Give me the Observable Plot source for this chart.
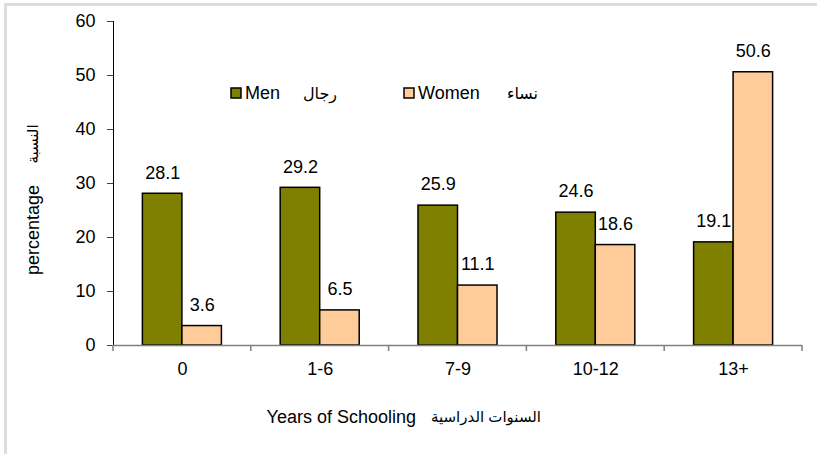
<!DOCTYPE html>
<html>
<head>
<meta charset="utf-8">
<script src="https://cdn.jsdelivr.net/npm/d3@7"></script>
<script src="https://cdn.jsdelivr.net/npm/@observablehq/plot@0.6"></script>
<style>
  html, body { margin: 0; padding: 0; background: #fff; }
  #wrap { position: relative; width: 817px; height: 454px; overflow: hidden; }
  #border { position: absolute; left: 4px; top: 3px; width: 900px; height: 600px;
            border-left: 3px solid #dcdcdc; border-top: 3px solid #dcdcdc; box-sizing: border-box; }
  #chart { position: absolute; left: 0; top: 0; }
</style>
</head>
<body>
<div id="wrap"><div id="border"></div><div id="chart"></div></div>
<script>
const categories = ["0", "1-6", "7-9", "10-12", "13+"];
const men = [28.1, 29.2, 25.9, 24.6, 19.1];
const women = [3.6, 6.5, 11.1, 18.6, 50.6];
const seriesNames = ["Men", "Women"];
const seriesArabic = ["رجال", "نساء"];
const seriesColors = ["#808000", "#FFCC99"];
const yTicks = [0, 10, 20, 30, 40, 50, 60];
const yLabel = ["percentage", "النسبة"];
const xLabel = ["Years of Schooling", "السنوات الدراسية"];

const data = categories.flatMap((c, i) => [
  {cat: c, series: seriesNames[0], value: men[i]},
  {cat: c, series: seriesNames[1], value: women[i]}
]);

const font = "'Liberation Sans', Arial, 'DejaVu Sans', sans-serif";

const plot = Plot.plot({
  width: 817,
  height: 454,
  marginLeft: 113,
  marginRight: 15,
  marginTop: 21,
  marginBottom: 109,
  style: {fontFamily: font, fontSize: "18px", background: "transparent", color: "#000", overflow: "visible"},
  fx: {domain: categories, padding: 0, round: false, label: null, axis: "bottom", tickSize: 0, tickPadding: 17},
  x: {domain: seriesNames, paddingInner: 0, paddingOuter: 0.744, round: false, axis: null},
  y: {domain: [0, 60], ticks: yTicks, tickSize: 6, tickPadding: 12, label: null, line: true, tickFormat: d => String(d)},
  color: {domain: seriesNames, range: seriesColors},
  marks: [
    Plot.barY(data, {fx: "cat", x: "series", y: "value", fill: "series", stroke: "#000", strokeWidth: 1.5}),
    Plot.ruleY([0], {stroke: "#808080", strokeWidth: 1.5}),
    Plot.text(data, {fx: "cat", x: "series", y: "value", text: d => d.value.toFixed(1), dy: -21, fontSize: 18, fill: "#000"})
  ]
});

document.getElementById("chart").appendChild(plot);

const svg = d3.select(plot.tagName.toLowerCase() === "svg" ? plot : plot.querySelector("svg"));
svg.selectAll("[aria-label='y-axis tick'] path, [aria-label='y-axis line']").attr("stroke", "#404040");

// boundary ticks on the category axis, from the fx scale
const fx = plot.scale("fx");
const ys = plot.scale("y");
const y0 = ys.apply(0);
const bounds = categories.map(c => fx.apply(c)).concat([fx.apply(categories[categories.length - 1]) + fx.bandwidth]);
const g = svg.append("g");
g.selectAll("line.b").data(bounds).join("line")
  .attr("x1", d => d).attr("x2", d => d)
  .attr("y1", y0).attr("y2", y0 + 6)
  .attr("stroke", "#808080").attr("stroke-width", 1.5);

// legend
const legend = svg.append("g").attr("font-family", font).attr("font-size", 18).attr("text-anchor", "start");
const legX = [231, 404];
const arX = [337, 538];
seriesNames.forEach((s, i) => {
  legend.append("rect").attr("x", legX[i]).attr("y", 88).attr("width", 10).attr("height", 10)
    .attr("fill", seriesColors[i]).attr("stroke", "#000").attr("stroke-width", 1.5);
  legend.append("text").attr("x", legX[i] + 14).attr("y", 93).attr("dy", "0.35em")
    .attr("text-anchor", "start").text(s);
  legend.append("text").attr("x", arX[i]).attr("y", 93).attr("dy", "0.35em")
    .attr("text-anchor", "end").attr("font-size", 16).text(seriesArabic[i]);
});

// y label
const yl = svg.append("g").attr("font-family", font).attr("font-size", 18);
yl.append("text").attr("transform", "translate(33,230) rotate(-90)").attr("text-anchor", "middle")
  .attr("dy", "0.35em").text(yLabel[0]);
yl.append("text").attr("transform", "translate(33,144) rotate(-90)").attr("text-anchor", "middle")
  .attr("dy", "0.35em").attr("font-size", 15).text(yLabel[1]);

// x label
const xl = svg.append("g").attr("font-family", font).attr("font-size", 18);
xl.append("text").attr("x", 416).attr("y", 417).attr("dy", "0.35em").attr("text-anchor", "end").text(xLabel[0]);
xl.append("text").attr("x", 486).attr("y", 417).attr("dy", "0.35em").attr("text-anchor", "middle")
  .attr("font-size", 15).text(xLabel[1]);
</script>
</body>
</html>
